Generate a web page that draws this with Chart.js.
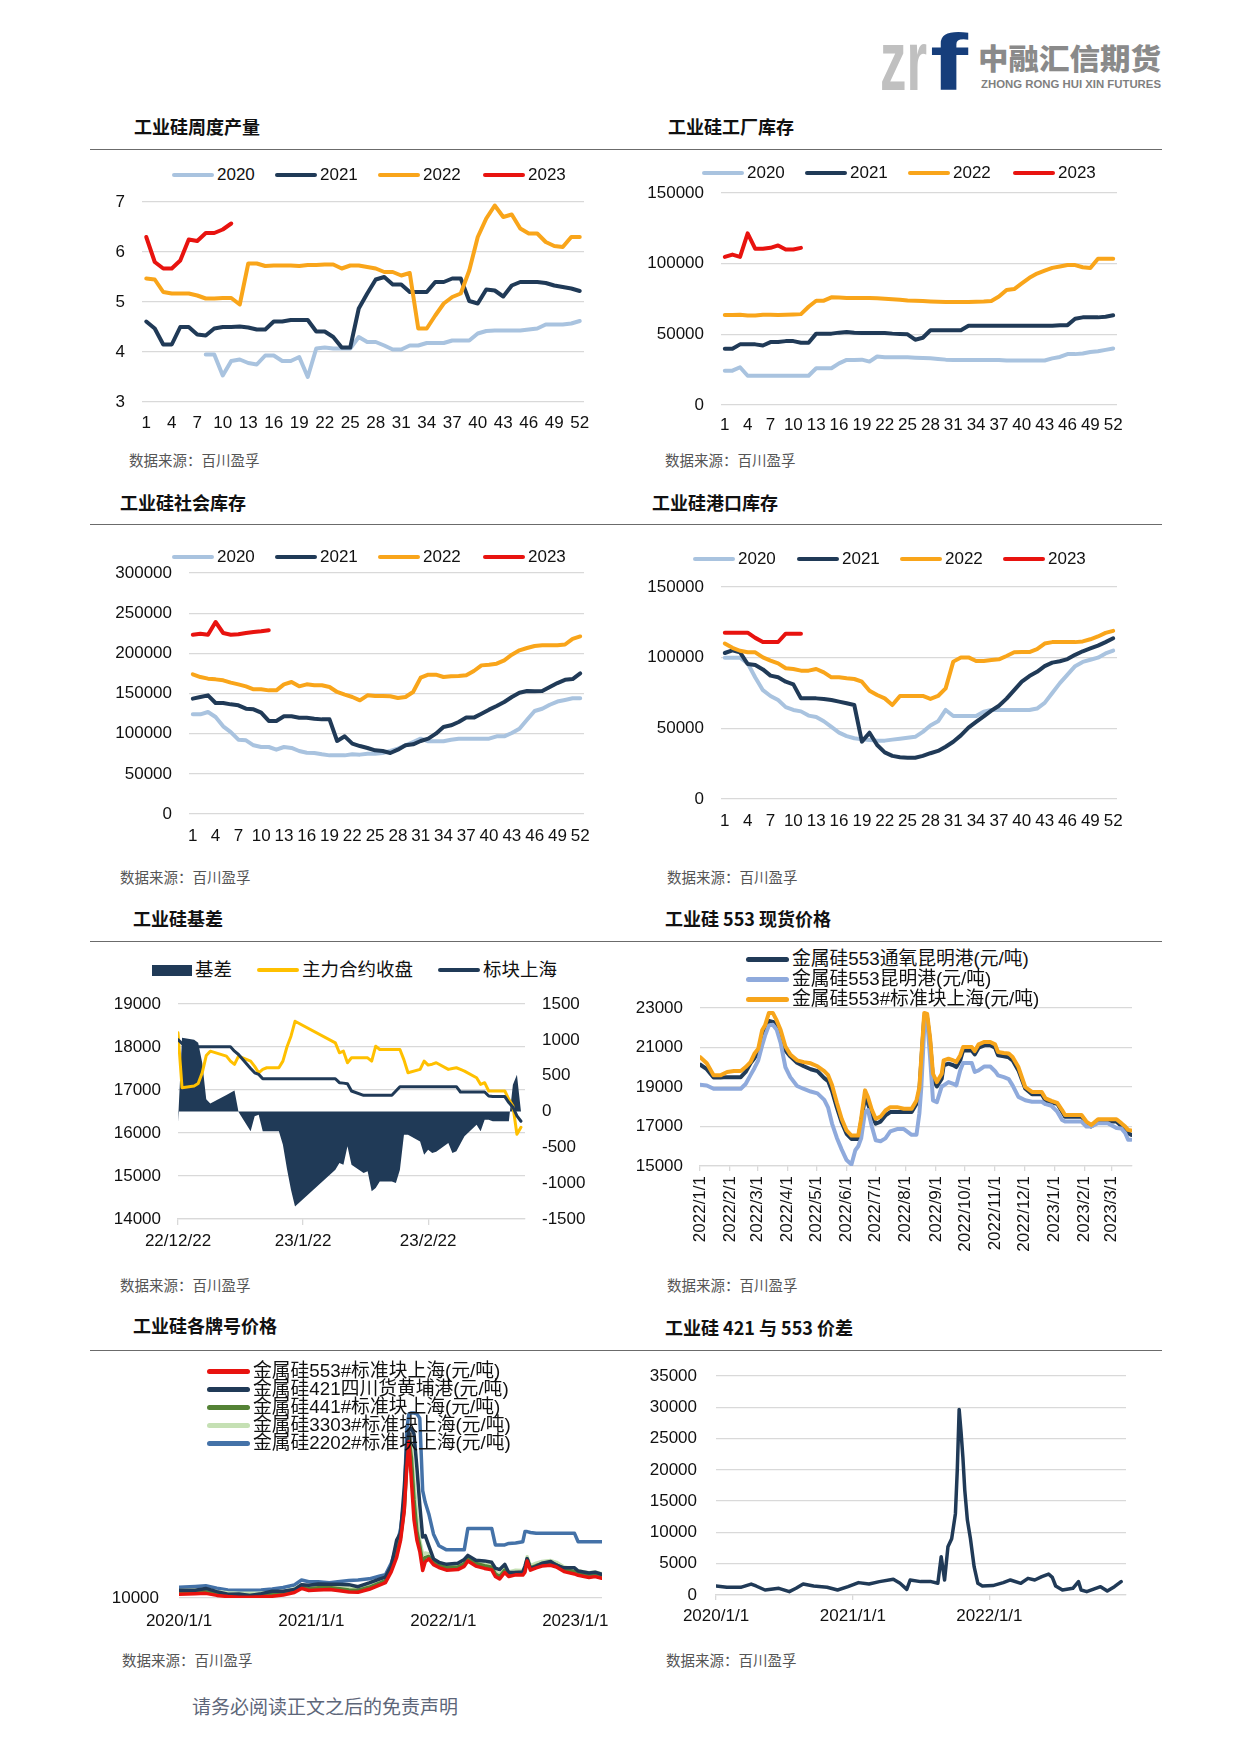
<!DOCTYPE html>
<html>
<head>
<meta charset="utf-8">
<title>工业硅</title>
<script src="https://cdn.jsdelivr.net/npm/chart.js@4.4.0/dist/chart.umd.min.js"></script>
<style>
  body { margin: 0; background: #fff; }
  #page { position: relative; width: 1241px; height: 1755px; overflow: hidden; background: #fff;
          font-family: "Liberation Sans", "Noto Sans CJK SC", sans-serif; color: #111; }
  .title { position: absolute; font-family: "Noto Sans CJK SC", sans-serif; font-weight: 700; font-size: 18px; line-height: 20px; white-space: nowrap; color: #111; }
  .src { position: absolute; font-family: "Noto Sans CJK SC", sans-serif; font-size: 14.5px; line-height: 16px; color: #555; white-space: nowrap; }
  .rule { position: absolute; left: 90px; width: 1072px; height: 0; border-top: 1.5px solid #6b6b6b; }
  .box { position: absolute; }
  .box canvas { display: block; }
  .lg { position: absolute; height: 20px; display: flex; align-items: center; white-space: nowrap; font-size: 17px; line-height: 20px; }
  .sw { display: inline-block; height: 4px; border-radius: 2px; margin-right: 3px; flex: none; }
  #foot { position: absolute; left: 192px; top: 1692px; font-family: "Noto Sans CJK SC", sans-serif; font-size: 19px; color: #5d6679; white-space: nowrap; }
</style>
</head>
<body>
<div id="page">
  <svg style="position:absolute;left:870px;top:20px" width="310" height="80">
    <text x="10" y="70" font-family="Liberation Sans" font-weight="700" font-size="86" fill="#c0c0c0" textLength="47" lengthAdjust="spacingAndGlyphs">zr</text>
    <text x="60" y="70" font-family="Liberation Sans" font-weight="700" font-size="80" fill="#163e7b" textLength="38" lengthAdjust="spacingAndGlyphs">f</text>
    <text x="108" y="50" font-family="Noto Sans CJK SC" font-weight="900" font-size="29" fill="#8a8a8a" textLength="183" lengthAdjust="spacingAndGlyphs">中融汇信期货</text>
    <text x="111" y="68" font-family="Liberation Sans" font-weight="700" font-size="11.5" fill="#7f7f7f" textLength="180" lengthAdjust="spacingAndGlyphs">ZHONG RONG HUI XIN FUTURES</text>
  </svg>

  <div class="title" style="left:134px;top:116px">工业硅周度产量</div>
  <div class="title" style="left:668px;top:116px">工业硅工厂库存</div>
  <div class="title" style="left:120px;top:492px">工业硅社会库存</div>
  <div class="title" style="left:652px;top:492px">工业硅港口库存</div>
  <div class="title" style="left:133px;top:908px">工业硅基差</div>
  <div class="title" style="left:665px;top:908px">工业硅 553 现货价格</div>
  <div class="title" style="left:133px;top:1315px">工业硅各牌号价格</div>
  <div class="title" style="left:665px;top:1317px">工业硅 421 与 553 价差</div>

  <div class="rule" style="top:149px"></div>
  <div class="rule" style="top:524px"></div>
  <div class="rule" style="top:941px"></div>
  <div class="rule" style="top:1350px"></div>

  <div class="src" style="left:129px;top:452px">数据来源：百川盈孚</div>
  <div class="src" style="left:665px;top:452px">数据来源：百川盈孚</div>
  <div class="src" style="left:120px;top:869px">数据来源：百川盈孚</div>
  <div class="src" style="left:667px;top:869px">数据来源：百川盈孚</div>
  <div class="src" style="left:120px;top:1277px">数据来源：百川盈孚</div>
  <div class="src" style="left:667px;top:1277px">数据来源：百川盈孚</div>
  <div class="src" style="left:122px;top:1652px">数据来源：百川盈孚</div>
  <div class="src" style="left:666px;top:1652px">数据来源：百川盈孚</div>

  <div class="box" style="left:90px;top:185px"><canvas id="c1" width="510" height="260"></canvas></div>
  <div class="box" style="left:620px;top:178px"><canvas id="c2" width="510" height="267"></canvas></div>
  <div class="box" style="left:90px;top:560px"><canvas id="c3" width="510" height="295"></canvas></div>
  <div class="box" style="left:620px;top:570px"><canvas id="c4" width="510" height="270"></canvas></div>
  <div class="box" style="left:90px;top:990px"><canvas id="c5" width="510" height="270"></canvas></div>
  <div class="box" style="left:620px;top:995px"><canvas id="c6" width="530" height="275"></canvas></div>
  <div class="box" style="left:90px;top:1355px"><canvas id="c7" width="530" height="290"></canvas></div>
  <div class="box" style="left:620px;top:1362px"><canvas id="c8" width="525" height="283"></canvas></div>

  <div id="foot">请务必阅读正文之后的免责声明</div>
</div>

<script>
// ---- data ----
const weekLabels = ['1','2','3','4','5','6','7','8','9','10','11','12','13','14','15','16','17','18','19','20','21','22','23','24','25','26',
  '27','28','29','30','31','32','33','34','35','36','37','38','39','40','41','42','43','44','45','46','47','48','49','50','51','52'];
const yearNames = ['2020', '2021', '2022', '2023'];

// 周度产量 (万吨)
const prod2020 = [null, null, null, null, null, null, null, 3.95, 3.95, 3.53, 3.82, 3.85, 3.78, 3.75, 3.93, 3.93, 3.82, 3.82, 3.90, 3.50,
  4.07, 4.09, 4.07, 4.07, 4.07, 4.30, 4.20, 4.20, 4.13, 4.05, 4.05, 4.13, 4.13, 4.18, 4.18, 4.18, 4.23, 4.23, 4.23, 4.37,
  4.42, 4.43, 4.43, 4.43, 4.43, 4.45, 4.47, 4.55, 4.55, 4.55, 4.57, 4.62];
const prod2021 = [4.61, 4.47, 4.15, 4.15, 4.50, 4.50, 4.35, 4.33, 4.47, 4.50, 4.50, 4.51, 4.49, 4.45, 4.45, 4.61, 4.61, 4.64, 4.64, 4.64,
  4.41, 4.41, 4.30, 4.09, 4.09, 4.87, 5.17, 5.45, 5.50, 5.35, 5.35, 5.20, 5.20, 5.20, 5.40, 5.40, 5.47, 5.47, 5.02, 4.97,
  5.25, 5.23, 5.11, 5.33, 5.40, 5.40, 5.40, 5.38, 5.33, 5.30, 5.27, 5.22];
const prod2022 = [5.47, 5.45, 5.20, 5.17, 5.17, 5.17, 5.13, 5.07, 5.07, 5.08, 5.08, 4.95, 5.77, 5.77, 5.72, 5.73, 5.73, 5.73, 5.72, 5.74,
  5.74, 5.75, 5.75, 5.67, 5.73, 5.73, 5.70, 5.67, 5.60, 5.60, 5.53, 5.58, 4.47, 4.47, 4.73, 4.97, 5.10, 5.17, 5.63, 6.30,
  6.67, 6.93, 6.70, 6.75, 6.47, 6.37, 6.37, 6.20, 6.12, 6.10, 6.30, 6.30];
const prod2023 = [6.30, 5.80, 5.67, 5.67, 5.83, 6.25, 6.22, 6.38, 6.38, 6.45, 6.57];

// 工厂库存 (吨)
const fac2020 = [24300, 24300, 26700, 20700, 20700, 20700, 20700, 20700, 20700, 20700, 20700, 20700, 26000, 26000, 26000, 29500, 31900, 31900, 32100, 30700,
  34300, 33800, 33800, 33800, 33700, 33500, 33300, 33000, 32600, 32100, 31900, 31900, 31900, 31900, 31900, 31900, 31900, 31500, 31500, 31500,
  31500, 31500, 31500, 33000, 34000, 36000, 36000, 36500, 37500, 38000, 39000, 40000];
const fac2021 = [39800, 39800, 42900, 42900, 42900, 42100, 44500, 44500, 45200, 45200, 44000, 44000, 50500, 50500, 50500, 51200, 51700, 51200, 51000, 51000,
  51000, 51000, 50500, 50200, 50000, 46200, 47600, 52900, 52900, 52900, 52900, 52900, 56000, 56000, 56000, 56000, 56000, 56000, 56000, 56000,
  56000, 56000, 56000, 56000, 56500, 56500, 61000, 62000, 62000, 62000, 62500, 63500];
const fac2022 = [63600, 63600, 63800, 63300, 63300, 63800, 63800, 63600, 63800, 64000, 64300, 69500, 73800, 73800, 76200, 76000, 75700, 75700, 75700, 75700,
  75500, 75200, 74800, 74500, 74000, 73800, 73500, 73200, 73000, 72900, 72800, 72800, 72800, 73000, 73200, 73600, 76700, 81400, 82000, 86000,
  90000, 93000, 95000, 97000, 98000, 99000, 99000, 97500, 97000, 103500, 103500, 103500];
const fac2023 = [104800, 106400, 104800, 121400, 110500, 110500, 111200, 112900, 110000, 110000, 111200];

// 社会库存 (吨)
const soc2020 = [124100, 124100, 127000, 120700, 109100, 102000, 92500, 91700, 85500, 83400, 83400, 80100, 83400, 82200, 78400, 76300, 75900, 74300, 73000, 73000,
  73000, 74300, 73900, 75100, 75100, 75900, 78400, 81300, 85500, 89600, 93800, 90500, 90500, 90500, 92500, 93800, 93800, 93800, 93800, 93800,
  96700, 96700, 100800, 106200, 117400, 128200, 131000, 136000, 140000, 142000, 144000, 144000];
const soc2021 = [143600, 145600, 147700, 138200, 138200, 136500, 135300, 131100, 130300, 126100, 115800, 115800, 121600, 121600, 119900, 119900, 118700, 117800, 117800, 90900,
  96700, 87600, 84600, 82200, 79300, 78400, 75900, 80100, 85500, 86700, 90900, 93800, 100000, 108300, 110400, 114500, 120000, 120000, 124900, 129900,
  134400, 139400, 145600, 151000, 153100, 152700, 153000, 158000, 163000, 167000, 168000, 175000];
const soc2022 = [173900, 170500, 168500, 167600, 166400, 163500, 161400, 158900, 155200, 155200, 153900, 153900, 161400, 164300, 158900, 161400, 160200, 160200, 158100, 151900,
  148500, 145600, 141500, 147700, 146900, 146900, 146500, 144400, 145600, 151900, 169700, 173400, 173400, 170500, 171400, 171800, 172600, 178000, 185000, 185900,
  187100, 191300, 198300, 203700, 206600, 209100, 210000, 210000, 210000, 211000, 218000, 221000];
const soc2023 = [223200, 224500, 223200, 239000, 225300, 223200, 223700, 225300, 226600, 227400, 228600];

// 港口库存 (吨)
const port2020 = [100000, 100000, 100000, 96000, 86000, 77000, 72900, 70000, 65000, 63000, 62000, 59000, 58000, 55000, 51000, 47000, 44500, 43000, 42200, 41700,
  41300, 41300, 42000, 42700, 43300, 44000, 47500, 52000, 55000, 63000, 58700, 58700, 58700, 58700, 61800, 63000, 63000, 63000, 63000, 63000,
  63000, 64000, 68000, 75000, 82000, 88000, 94000, 97000, 98500, 100000, 103000, 105000];
const port2021 = [103300, 105200, 103800, 95500, 94800, 91700, 87300, 86100, 83000, 81100, 71200, 71200, 71200, 70800, 70000, 68900, 67700, 66500, 40600, 46900,
  38200, 33000, 30500, 29500, 29200, 29200, 30500, 32400, 34000, 37000, 40500, 45000, 50500, 54500, 58400, 62500, 66000, 71000, 77000, 83000,
  87000, 90000, 94000, 96500, 97500, 99000, 102000, 104500, 106500, 108500, 111000, 113700];
const port2022 = [110000, 107000, 104900, 103800, 103800, 100200, 97900, 96000, 92500, 92000, 90800, 90800, 92000, 89600, 86100, 86100, 85400, 84900, 83000, 76600,
  73600, 71200, 66500, 72900, 72900, 72900, 72900, 70800, 72900, 78300, 97200, 100200, 100200, 97600, 97600, 98300, 98800, 101200, 103800, 104000,
  104000, 106000, 110000, 111000, 111000, 111000, 111000, 111500, 113000, 115000, 117500, 119000];
const port2023 = [117700, 117700, 117700, 117700, 114000, 111100, 111100, 111100, 117000, 117000, 117000];

// 基差 (元/吨)
const basisNames = ['基差', '主力合约收盘', '标块上海'];
const basisDates = ['2022-12-22', '2022-12-23', '2022-12-26', '2022-12-27', '2022-12-28', '2022-12-29', '2022-12-30',
  '2023-01-03', '2023-01-04', '2023-01-05', '2023-01-06', '2023-01-09', '2023-01-10', '2023-01-11', '2023-01-12', '2023-01-13',
  '2023-01-16', '2023-01-17', '2023-01-18', '2023-01-19', '2023-01-20', '2023-01-30', '2023-01-31',
  '2023-02-01', '2023-02-02', '2023-02-03', '2023-02-06', '2023-02-07', '2023-02-08', '2023-02-09', '2023-02-10',
  '2023-02-13', '2023-02-14', '2023-02-15', '2023-02-16', '2023-02-17', '2023-02-20', '2023-02-21', '2023-02-22', '2023-02-23', '2023-02-24',
  '2023-02-27', '2023-02-28', '2023-03-01', '2023-03-02', '2023-03-03', '2023-03-06', '2023-03-07', '2023-03-08', '2023-03-09', '2023-03-10',
  '2023-03-13', '2023-03-14', '2023-03-15', '2023-03-16', '2023-03-17'];
const futuresClose = [18330, 17054, 17093, 17150, 17400, 17800, 17903, 17788, 17672, 17595, 17788, 17672, 17550, 17400, 17480, 17517,
  17517, 17672, 18000, 18251, 18598, 18096, 17865, 17903, 17633, 17749, 17749, 17749, 17672, 18019, 17942,
  17942, 17942, 17942, 17700, 17400, 17479, 17672, 17579, 17600, 17633, 17479, 17500, 17517, 17480, 17440,
  17286, 17131, 17170, 16977, 16977, 16977, 16784, 16629, 15972, 16134];
const spotShanghai = [18174, 18080, 18004, 18004, 18004, 18004, 18004, 18004, 18004, 17903, 17826, 17500, 17400, 17363, 17263, 17263,
  17263, 17263, 17263, 17263, 17263, 17263, 17170, 17160, 17147, 16977, 16877, 16877, 16877, 16877, 16877,
  16877, 16977, 17077, 17077, 17077, 17077, 17077, 17077, 17077, 17077, 17077, 17077, 17077, 16954, 16954,
  16954, 16954, 16954, 16861, 16850, 16846, 16707, 16600, 16400, 16273];
const basis = [-150, 1030, 1002, 960, 681, 170, 110, 230, 262, 294, -7, -277, -68, -45, -277, -277,
  -277, -463, -800, -1091, -1324, -812, -719, -742, -486, -742, -858, -835, -1114, -1067, -975,
  -975, -998, -812, -323, -323, -417, -602, -533, -579, -560, -440, -579, -556, -450, -347,
  -184, -277, -114, -114, -137, -137, -137, 374, 513, 0];
const basisTickDates = ['2022-12-22', '2023-01-22', '2023-02-22'];
const basisTickLabels = ['22/12/22', '23/1/22', '23/2/22'];

// 553 现货价格 (元/吨)
const spotNames = ['金属硅553通氧昆明港(元/吨)', '金属硅553昆明港(元/吨)', '金属硅553#标准块上海(元/吨)'];
const spotDates = ['2022-01-01', '2022-01-08', '2022-01-15', '2022-01-22', '2022-01-29', '2022-02-05', '2022-02-12', '2022-02-17', '2022-02-22', '2022-02-26',
  '2022-03-02', '2022-03-06', '2022-03-09', '2022-03-13', '2022-03-17', '2022-03-21', '2022-03-25', '2022-03-30', '2022-04-04', '2022-04-11',
  '2022-04-18', '2022-04-25', '2022-05-02', '2022-05-09', '2022-05-13', '2022-05-17', '2022-05-22', '2022-05-27', '2022-06-01', '2022-06-06',
  '2022-06-10', '2022-06-13', '2022-06-16', '2022-06-20', '2022-06-23', '2022-06-27', '2022-07-01', '2022-07-06', '2022-07-11', '2022-07-16',
  '2022-07-23', '2022-07-30', '2022-08-07', '2022-08-12', '2022-08-15', '2022-08-17', '2022-08-20', '2022-08-23', '2022-08-26', '2022-08-29',
  '2022-09-02', '2022-09-07', '2022-09-09', '2022-09-14', '2022-09-19', '2022-09-22', '2022-09-26', '2022-09-29', '2022-10-08', '2022-10-11',
  '2022-10-15', '2022-10-21', '2022-10-27', '2022-11-01', '2022-11-04', '2022-11-10', '2022-11-15', '2022-11-19', '2022-11-25', '2022-12-02',
  '2022-12-09', '2022-12-19', '2022-12-23', '2022-12-29', '2023-01-04', '2023-01-09', '2023-01-12', '2023-01-21', '2023-01-29', '2023-02-03',
  '2023-02-08', '2023-02-15', '2023-02-25', '2023-03-06', '2023-03-11', '2023-03-15', '2023-03-18', '2023-03-21'];
const spotKmOxy = [20140, 19900, 19480, 19480, 19500, 19500, 19500, 19760, 20200, 20450,
  20800, 21600, 21950, 22350, 22300, 22200, 21600, 20850, 20550, 20230,
  20050, 19900, 19800, 19450, 19300, 18800, 17950, 17200, 16630, 16370,
  16370, 16370, 17250, 18490, 18150, 17600, 17140, 17250, 17560, 17730,
  17730, 17730, 17730, 18150, 18830, 20350, 22540, 22500, 21300, 19420,
  19030, 19420, 20100, 20180, 20100, 20010, 20350, 20850, 20850, 20650,
  20990, 21110, 21110, 20990, 20600, 20550, 20500, 20350, 19840, 18920,
  18630, 18630, 18300, 18200, 18150, 17750, 17500, 17500, 17500, 17170,
  17000, 17250, 17250, 17250, 17030, 16850, 16670, 16580];
const spotKm = [19110, 19080, 18910, 18910, 18910, 18910, 18910, 19150, 19600, 19950,
  20350, 21100, 21600, 22120, 22150, 21900, 21250, 20000, 19500, 19050,
  18900, 18770, 18680, 18350, 17950, 17150, 16420, 15830, 15300, 15080,
  15800, 16000, 16400, 17750, 17830, 17000, 16300, 16250, 16400, 16750,
  16870, 16870, 16580, 16580, 17670, 19000, 22000, 22400, 20500, 18320,
  18230, 19030, 19080, 19250, 19160, 19080, 19840, 20210, 20210, 19760,
  19840, 20040, 20040, 19800, 19590, 19500, 19400, 19080, 18500, 18330,
  18250, 18250, 18130, 18050, 17750, 17330, 17250, 17250, 17250, 17000,
  17000, 17170, 17170, 16920, 16900, 16670, 16330, 16330];
const spotSh = [20515, 20200, 19590, 19590, 19760, 19810, 19810, 20010, 20260, 20680,
  20940, 21870, 22120, 22750, 22750, 22370, 21900, 21050, 20650, 20350,
  20260, 20200, 20050, 19800, 19600, 19100, 18200, 17380, 16800, 16540,
  16540, 16540, 17400, 18830, 18490, 17850, 17390, 17500, 17810, 17980,
  17980, 17900, 17900, 18320, 18990, 20520, 22750, 22700, 21500, 19670,
  19250, 19670, 20350, 20430, 20350, 20260, 20600, 21020, 21020, 20820,
  21160, 21280, 21280, 21160, 20770, 20720, 20700, 20520, 20010, 19000,
  18750, 18750, 18420, 18300, 18200, 17830, 17580, 17580, 17580, 17250,
  17080, 17370, 17370, 17370, 17170, 17000, 16830, 16800];
const spotTickDates = ['2022-01-01', '2022-02-01', '2022-03-01', '2022-04-01', '2022-05-01', '2022-06-01', '2022-07-01', '2022-08-01',
  '2022-09-01', '2022-10-01', '2022-11-01', '2022-12-01', '2023-01-01', '2023-02-01', '2023-03-01'];
const spotTickLabels = ['2022/1/1', '2022/2/1', '2022/3/1', '2022/4/1', '2022/5/1', '2022/6/1', '2022/7/1', '2022/8/1',
  '2022/9/1', '2022/10/1', '2022/11/1', '2022/12/1', '2023/1/1', '2023/2/1', '2023/3/1'];

// 各牌号价格 (元/吨)
const gradeNames = ['金属硅553#标准块上海(元/吨)', '金属硅421四川货黄埔港(元/吨)', '金属硅441#标准块上海(元/吨)',
  '金属硅3303#标准块上海(元/吨)', '金属硅2202#标准块上海(元/吨)'];
const gradeDates = ['2020-01-01', '2020-02-15', '2020-03-15', '2020-04-15', '2020-05-15', '2020-06-15', '2020-07-15', '2020-08-15',
  '2020-09-15', '2020-10-15', '2020-11-15', '2020-12-05', '2020-12-25',
  '2021-01-20', '2021-02-20', '2021-03-15', '2021-04-15', '2021-05-10', '2021-06-10', '2021-07-10', '2021-07-25', '2021-08-10',
  '2021-08-25', '2021-09-05', '2021-09-15', '2021-09-22', '2021-09-28', '2021-10-05', '2021-10-12', '2021-10-20', '2021-10-28',
  '2021-11-05', '2021-11-12', '2021-11-22', '2021-12-05', '2021-12-20',
  '2022-01-10', '2022-02-10', '2022-02-28', '2022-03-10', '2022-04-01', '2022-04-25', '2022-05-15', '2022-05-25', '2022-06-06',
  '2022-06-20', '2022-07-01', '2022-07-20', '2022-08-09', '2022-08-15', '2022-08-21', '2022-08-30', '2022-09-15', '2022-10-01',
  '2022-10-25', '2022-11-10', '2022-12-01', '2022-12-30', '2023-01-09', '2023-02-08', '2023-02-25', '2023-03-15'];
const grade553 = [11300, 11500, 11600, 10900, 10500, 10300, 10300, 10400, 10600, 11000, 11900, 13300, 12600,
  12800, 12900, 12600, 12100, 12000, 13000, 14500, 15300, 19000, 24000, 30000, 40000, 55000, 64000, 50000, 37000, 30000, 26000, 19500, 22500, 23500, 21500, 20500,
  19600, 19800, 20900, 22750, 21000, 20200, 19700, 17400, 16540, 18800, 17400, 17980, 17900, 18900, 22750, 19600, 20400, 21000, 21280, 20700, 19100, 18300, 17830, 17080, 17370, 16800];
const grade421 = [12700, 12700, 13300, 12200, 11300, 11400, 10900, 11500, 12300, 12300, 12900, 14600, 14400,
  14800, 14700, 14700, 14600, 13900, 15200, 16600, 17200, 21000, 30000, 32500, 48000, 62000, 68000, 68500, 66500, 55000, 42000, 31000, 31500, 28000, 23500, 22300,
  21600, 22000, 23300, 24700, 23000, 22800, 22300, 20300, 19800, 21600, 18800, 18800, 19000, 21000, 23600, 20100, 20900, 22000, 22600, 21300, 20400, 20400, 19300, 18600, 18900, 18200];
const grade441 = [11900, 12100, 12200, 11500, 11100, 10900, 10900, 11000, 11200, 11600, 12500, 13900, 13200,
  13500, 13600, 13300, 12800, 12700, 13700, 15200, 16000, 19800, 25000, 31000, 40500, 56000, 65000, 58000, 44000, 33000, 28000, 22000, 24000, 24300, 22300, 21300,
  20500, 20700, 21800, 23600, 21900, 21100, 20600, 18300, 17400, 19600, 18200, 18800, 18700, 19700, 23500, 20400, 21200, 21800, 22100, 21500, 19900, 19100, 18600, 17900, 18200, 17600];
const grade3303 = [12600, 12800, 12900, 12200, 11800, 11600, 11600, 11700, 11900, 12300, 13200, 14600, 13900,
  14200, 14300, 14000, 13500, 13400, 14400, 15900, 16700, 20500, 25800, 31800, 41000, 57000, 66000, 62000, 50000, 38000, 30000, 25000, 25500, 25300, 23300, 22300,
  21400, 21600, 22600, 24400, 22700, 21900, 21400, 19100, 18200, 20400, 19000, 19600, 19500, 20500, 24200, 21200, 22000, 22600, 22900, 22300, 20700, 19900, 19400, 18700, 19000, 18400];
const grade2202 = [13700, 14000, 14200, 13400, 12800, 12700, 12700, 12800, 13100, 13600, 14500, 16200, 15600,
  15600, 15300, 15600, 16000, 16200, 16600, 17600, 18000, 22000, 27700, 34000, 44000, 68000, 73500, 73800, 73800, 73500, 72000, 47000, 43000, 39000, 32000, 28000,
  26600, 26600, 26600, 34000, 34000, 34000, 34000, 28300, 28300, 28300, 28800, 29000, 29400, 32900, 32900, 32600, 32300, 32300, 32300, 32300, 32300, 32300, 29400, 29400, 29400, 29400];
const yearTickDates = ['2020-01-01', '2021-01-01', '2022-01-01', '2023-01-01'];
const yearTickLabels = ['2020/1/1', '2021/1/1', '2022/1/1', '2023/1/1'];

// 421 与 553 价差 (元/吨)
const spreadDates = ['2020-01-01', '2020-01-30', '2020-03-07', '2020-04-04', '2020-04-17', '2020-05-11', '2020-06-17', '2020-07-15', '2020-08-02',
  '2020-08-21', '2020-09-18', '2020-10-24', '2020-11-21', '2020-12-19', '2021-01-16', '2021-02-13', '2021-03-13', '2021-04-19', '2021-05-07',
  '2021-05-25', '2021-06-03', '2021-07-01', '2021-07-29', '2021-08-16', '2021-08-25', '2021-09-03', '2021-09-12', '2021-09-22', '2021-10-02',
  '2021-10-07', '2021-10-12', '2021-10-17', '2021-10-22', '2021-10-27', '2021-11-03', '2021-11-11', '2021-11-21', '2021-12-01', '2021-12-13',
  '2022-01-10', '2022-02-07', '2022-02-26', '2022-03-26', '2022-04-14', '2022-05-02', '2022-05-21', '2022-06-08', '2022-06-18', '2022-06-27',
  '2022-07-15', '2022-08-12', '2022-08-27', '2022-09-03', '2022-09-18', '2022-10-25', '2022-11-12', '2022-12-01', '2022-12-19'];
const spread421553 = [1440, 1230, 1230, 1750, 1440, 800, 1070, 530, 1070,
  1750, 1440, 1230, 800, 1330, 1980, 1750, 2140, 2510, 1870,
  900, 2400, 2140, 2140, 1870, 6100, 2400, 7700, 9000, 13000,
  20000, 29660, 26100, 22000, 16770, 11980, 9060, 4520, 1870, 1440,
  1500, 1980, 2400, 1870, 2660, 2400, 2930, 3350, 2820, 1440,
  800, 1070, 2140, 800, 530, 1330, 640, 1330, 2140];

// ---- colours ----
const C_LB = '#a9c3df', C_NAVY = '#203a57', C_ORANGE = '#f9a51a', C_RED = '#e8130f';
const C_YELLOW = '#ffc000', C6_LB = '#8faadc', C6_ORANGE = '#f7a51b';
const C7_GREEN = '#548235', C7_LG = '#c5e0b4', C7_BLUE = '#4472a8';
const GRID = '#d9d9d9';
const yearColors = [C_LB, C_NAVY, C_ORANGE, C_RED];

Chart.defaults.font.family = '"Liberation Sans", "Noto Sans CJK SC", sans-serif';
Chart.defaults.font.size = 17;
Chart.defaults.color = '#111';
Chart.defaults.animation = false;

const page = document.getElementById('page');
const plain = v => String(v);

function dayOf(s, base) { return (Date.parse(s) - Date.parse(base)) / 86400000; }
function toPoints(dates, vals, base) { return dates.map((d, i) => ({ x: dayOf(d, base), y: vals[i] })); }
function fixW(w) { return s => { s.width = w; s.paddingTop = 0; s.paddingBottom = 0; }; }
function fixH(h) { return s => { s.height = h; s.paddingLeft = 0; s.paddingRight = 0; }; }

function line(label, data, color, width, extra) {
  return Object.assign({ label: label, data: data, borderColor: color, backgroundColor: color, borderWidth: width,
    pointRadius: 0, tension: 0, fill: false, borderJoinStyle: 'round', borderCapStyle: 'round' }, extra || {});
}

function legendItem(x, y, w, h, color, text, size, radius) {
  const d = document.createElement('div');
  d.className = 'lg';
  d.style.left = x + 'px';
  d.style.top = (y - 10) + 'px';
  d.style.fontSize = size + 'px';
  const s = document.createElement('span');
  s.className = 'sw';
  s.style.width = w + 'px';
  s.style.height = h + 'px';
  s.style.background = color;
  s.style.borderRadius = radius + 'px';
  d.appendChild(s);
  d.appendChild(document.createTextNode(text));
  page.appendChild(d);
}

// weekly year-on-year charts
function weeklyChart(id, series, yMin, yMax, step, pad, yW, xH, tickPad) {
  const ds = [];
  for (let i = series.length - 1; i >= 0; i--) {
    ds.push(line(yearNames[i], series[i], yearColors[i], 4));
  }
  new Chart(document.getElementById(id), {
    type: 'line',
    data: { labels: weekLabels, datasets: ds },
    options: {
      responsive: false,
      layout: { padding: pad },
      plugins: { legend: { display: false }, tooltip: { enabled: false } },
      scales: {
        x: {
          type: 'category', offset: true,
          grid: { display: false, drawTicks: false }, border: { display: false },
          ticks: { autoSkip: false, maxRotation: 0, minRotation: 0, padding: tickPad,
            callback: function (v, i) { return i % 3 === 0 ? this.getLabelForValue(v) : ''; } },
          afterFit: fixH(xH)
        },
        y: {
          min: yMin, max: yMax,
          ticks: { stepSize: step, padding: 17, callback: plain },
          grid: { color: GRID, lineWidth: 1.3, drawTicks: false }, border: { display: false },
          afterFit: fixW(yW)
        }
      }
    }
  });
}

weeklyChart('c1', [prod2020, prod2021, prod2022, prod2023], 3, 7, 1, { top: 17, right: 16, left: 0, bottom: 0 }, 52, 43, 11);
weeklyChart('c2', [fac2020, fac2021, fac2022, fac2023], 0, 150000, 50000, { top: 15, right: 13, left: 0, bottom: 0 }, 101, 40, 10);
weeklyChart('c3', [soc2020, soc2021, soc2022, soc2023], 0, 300000, 50000, { top: 13, right: 16, left: 0, bottom: 0 }, 99, 41, 12);
weeklyChart('c4', [port2020, port2021, port2022, port2023], 0, 150000, 50000, { top: 17, right: 13, left: 0, bottom: 0 }, 101, 41, 12);

[175, 173, 557, 559].forEach((y, k) => {
  const xs = k === 1 ? [702, 805, 908, 1013] : k === 3 ? [693, 797, 900, 1003] : [172, 275, 378, 483];
  yearNames.forEach((n, i) => legendItem(xs[i], y, 42, 4, yearColors[i], n, 17, 2));
});

// 基差
const BASE5 = '2022-12-22';
new Chart(document.getElementById('c5'), {
  type: 'line',
  data: {
    datasets: [
      line(basisNames[2], toPoints(basisDates, spotShanghai, BASE5), C_NAVY, 3, { yAxisID: 'y' }),
      line(basisNames[1], toPoints(basisDates, futuresClose, BASE5), C_YELLOW, 3, { yAxisID: 'y' }),
      line(basisNames[0], toPoints(basisDates, basis, BASE5), C_NAVY, 0, { yAxisID: 'y1', fill: 'origin' })
    ]
  },
  options: {
    responsive: false,
    layout: { padding: { top: 14, right: 0, left: 0, bottom: 0 } },
    plugins: { legend: { display: false }, tooltip: { enabled: false } },
    scales: {
      x: {
        type: 'linear', min: 0, max: 86,
        afterBuildTicks: s => { s.ticks = basisTickDates.map(d => ({ value: dayOf(d, BASE5) })); },
        ticks: { autoSkip: false, maxRotation: 0, padding: 6, callback: (v, i) => basisTickLabels[i] },
        grid: { drawOnChartArea: false, drawTicks: true, tickLength: 6, color: GRID, lineWidth: 1.3 },
        border: { display: true, color: GRID, width: 1.3 },
        afterFit: fixH(41)
      },
      y: {
        position: 'left', min: 14000, max: 19000,
        ticks: { stepSize: 1000, padding: 17, callback: plain },
        grid: { color: GRID, lineWidth: 1.3, drawTicks: false }, border: { display: false },
        afterFit: fixW(88)
      },
      y1: {
        position: 'right', min: -1500, max: 1500,
        ticks: { stepSize: 500, padding: 17, callback: plain },
        grid: { display: false, drawTicks: false }, border: { display: false },
        afterFit: fixW(75)
      }
    }
  }
});
legendItem(152, 970, 40, 11, C_NAVY, basisNames[0], 18.5, 0);
legendItem(257, 970, 42, 4, C_YELLOW, basisNames[1], 18.5, 2);
legendItem(438, 970, 42, 4, C_NAVY, basisNames[2], 18.5, 2);

// 553 现货价格
const BASE6 = '2022-01-01';
new Chart(document.getElementById('c6'), {
  type: 'line',
  data: {
    datasets: [
      line(spotNames[2], toPoints(spotDates, spotSh, BASE6), C6_ORANGE, 4),
      line(spotNames[1], toPoints(spotDates, spotKm, BASE6), C6_LB, 4),
      line(spotNames[0], toPoints(spotDates, spotKmOxy, BASE6), C_NAVY, 4)
    ]
  },
  options: {
    responsive: false,
    layout: { padding: { top: 13, right: 18, left: 0, bottom: 0 } },
    plugins: { legend: { display: false }, tooltip: { enabled: false } },
    scales: {
      x: {
        type: 'linear', min: 0, max: 445,
        afterBuildTicks: s => { s.ticks = spotTickDates.map(d => ({ value: dayOf(d, BASE6) })); },
        ticks: { autoSkip: false, minRotation: 90, maxRotation: 90, padding: 5, callback: (v, i) => spotTickLabels[i] },
        grid: { drawOnChartArea: false, drawTicks: true, tickLength: 5, color: GRID, lineWidth: 1.3 },
        border: { display: true, color: GRID, width: 1.3 },
        afterFit: fixH(104)
      },
      y: {
        min: 15000, max: 23000,
        ticks: { stepSize: 2000, padding: 17, callback: plain },
        grid: { color: GRID, lineWidth: 1.3, drawTicks: false }, border: { display: false },
        afterFit: fixW(80)
      }
    }
  }
});
[C_NAVY, C6_LB, C6_ORANGE].forEach((c, i) => legendItem(746, 959 + i * 20, 43, 5, c, spotNames[i], 18.8, 2.5));

// 各牌号价格
const BASE7 = '2020-01-01';
const gradeSeries = [grade553, grade421, grade441, grade3303, grade2202];
const gradeColors = [C_RED, C_NAVY, C7_GREEN, C7_LG, C7_BLUE];
new Chart(document.getElementById('c7'), {
  type: 'line',
  data: {
    datasets: gradeSeries.map((s, i) => line(gradeNames[i], toPoints(gradeDates, s, BASE7), gradeColors[i], 3.5))
  },
  options: {
    responsive: false,
    layout: { padding: { top: 11, right: 18, left: 0, bottom: 0 } },
    plugins: { legend: { display: false }, tooltip: { enabled: false } },
    scales: {
      x: {
        type: 'linear', min: 0, max: 1170,
        afterBuildTicks: s => { s.ticks = yearTickDates.map(d => ({ value: dayOf(d, BASE7) })); },
        ticks: { autoSkip: false, maxRotation: 0, padding: 13, callback: (v, i) => yearTickLabels[i] },
        grid: { display: false, drawTicks: false }, border: { display: false },
        afterFit: fixH(47)
      },
      y: {
        min: 10000, max: 90000,
        afterBuildTicks: s => { s.ticks = [{ value: 10000 }]; },
        ticks: { padding: 20, callback: plain },
        grid: { color: GRID, lineWidth: 1.3, drawTicks: false }, border: { display: false },
        afterFit: fixW(89)
      }
    }
  }
});
gradeNames.forEach((n, i) => legendItem(207, 1371 + i * 18, 43, 5, gradeColors[i], n, 18.8, 2.5));

// 421 与 553 价差
new Chart(document.getElementById('c8'), {
  type: 'line',
  data: { datasets: [line('价差', toPoints(spreadDates, spread421553, BASE7), C_NAVY, 3.5)] },
  options: {
    responsive: false,
    layout: { padding: { top: 14, right: 19, left: 0, bottom: 0 } },
    plugins: { legend: { display: false }, tooltip: { enabled: false } },
    scales: {
      x: {
        type: 'linear', min: 0, max: 1096,
        afterBuildTicks: s => { s.ticks = yearTickDates.slice(0, 3).map(d => ({ value: dayOf(d, BASE7) })); },
        ticks: { autoSkip: false, maxRotation: 0, padding: 6, callback: (v, i) => yearTickLabels[i] },
        grid: { drawOnChartArea: false, drawTicks: true, tickLength: 5, color: GRID, lineWidth: 1.3 },
        border: { display: true, color: GRID, width: 1.3 },
        afterFit: fixH(50)
      },
      y: {
        min: 0, max: 35000,
        ticks: { stepSize: 5000, padding: 19, callback: plain },
        grid: { color: GRID, lineWidth: 1.3, drawTicks: false }, border: { display: false },
        afterFit: fixW(96)
      }
    }
  }
});
</script>
</body>
</html>
